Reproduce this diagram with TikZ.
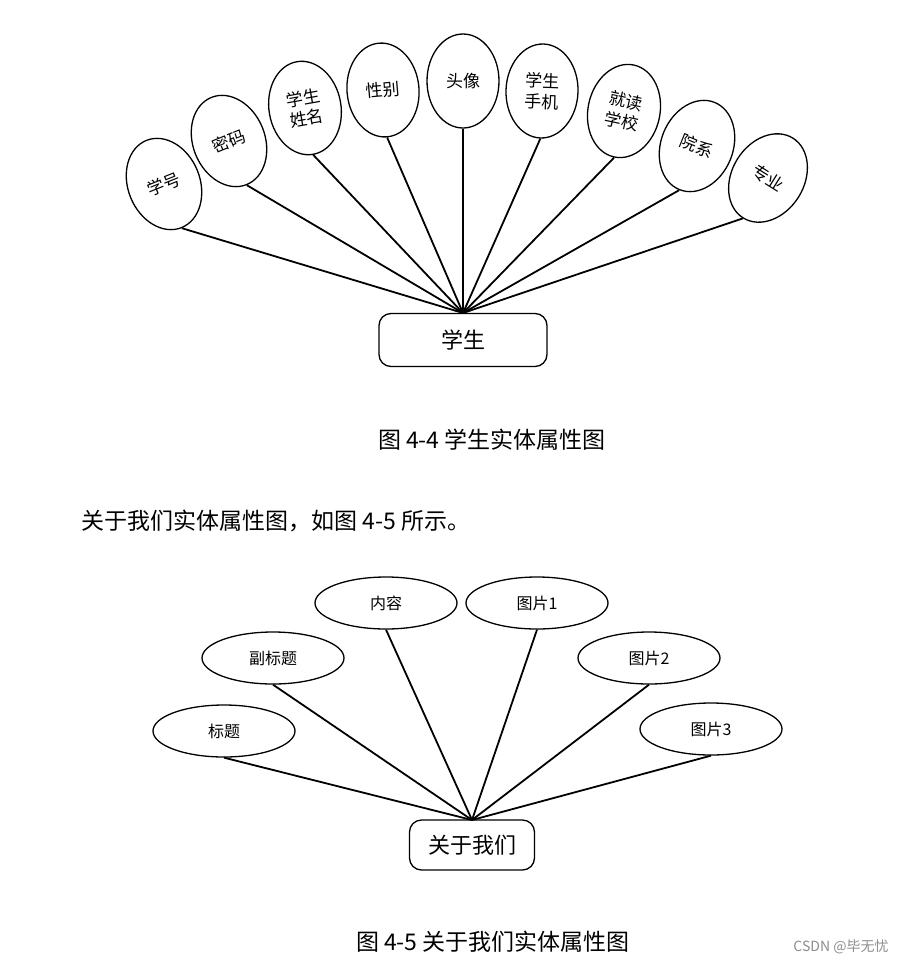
\documentclass[tikz,border=0pt]{standalone}
\usepackage{fontspec}
\newfontfamily\cjk{Noto Sans CJK SC}
\usetikzlibrary{shapes.geometric, positioning}

\begin{document}
\begin{tikzpicture}[x=1pt, y=-1pt,
    attr/.style={ellipse, draw, line width=1.3pt, inner sep=0pt, minimum width=72pt, minimum height=94pt, align=center, font=\cjk\fontsize{17}{21}\selectfont},
    wideattr/.style={ellipse, draw, line width=1.3pt, inner sep=0pt, minimum width=142pt, minimum height=52pt, font=\cjk\fontsize{16}{20}\selectfont},
    entity/.style={draw, line width=1.3pt, rounded corners=12pt, inner sep=0pt, font=\cjk\fontsize{22}{26}\selectfont},
    link/.style={line width=1.8pt},
    caption/.style={font=\cjk\fontsize{23}{27}\selectfont}]

        \useasboundingbox (0,0) rectangle (907,964);

        % --- Fig. 4-4: student entity ---
        \begin{scope}
            % Entity box
            \node[entity, minimum width=168pt, minimum height=53pt] (student) at (463,340) {学生};
            \coordinate (sfan) at (463,313);

            % Attributes
            \node[attr, rotate=22]  (sno)     at (164,184) {学号};
            \node[attr, rotate=22]  (spwd)    at (229,141) {密码};
            \node[attr, rotate=10]  (sname)   at (305,108) {学生\\姓名};
            \node[attr, rotate=5]   (ssex)    at (383,90)  {性别};
            \node[attr]             (savatar) at (463,81)  {头像};
            \node[attr, rotate=-2]  (sphone)  at (542,91)  {学生\\手机};
            \node[attr, rotate=-12] (sschool) at (624,111) {就读\\学校};
            \node[attr, rotate=-22] (sdept)   at (697,146) {院系};
            \node[attr, rotate=-32] (smajor)  at (768,178) {专业};

            % Links to entity
            \foreach \a in {sno, spwd, sname, ssex, savatar, sphone, sschool, sdept, smajor}
                \draw[link] (\a.south) -- (sfan);

            \node[caption] (cap44) at (492,440) {图 4-4 学生实体属性图};
        \end{scope}

        % Text between the figures
        \node[caption, anchor=west] (para) at (78,521) {关于我们实体属性图，如图 4-5 所示。};

        % --- Fig. 4-5: about us entity ---
        \begin{scope}
            % Entity box
            \node[entity, minimum width=125pt, minimum height=50pt] (about) at (472,845) {关于我们};
            \coordinate (afan) at (472,820);

            % Attributes
            \node[wideattr] (atitle)  at (224,731) {标题};
            \node[wideattr] (asub)    at (273,658) {副标题};
            \node[wideattr] (atext)   at (386,603) {内容};
            \node[wideattr] (apic1)   at (537,603) {图片1};
            \node[wideattr] (apic2)   at (649,658) {图片2};
            \node[wideattr] (apic3)   at (711,729) {图片3};

            % Links to entity
            \foreach \a in {atitle, asub, atext, apic1, apic2, apic3}
                \draw[link] (\a.south) -- (afan);

            \node[caption] (cap45) at (493,942) {图 4-5 关于我们实体属性图};
        \end{scope}

        % Watermark
        \node[font=\cjk\fontsize{14}{16}\selectfont, text=black!45] (mark) at (841,947) {CSDN @毕无忧};

    \end{tikzpicture}
\end{document}
